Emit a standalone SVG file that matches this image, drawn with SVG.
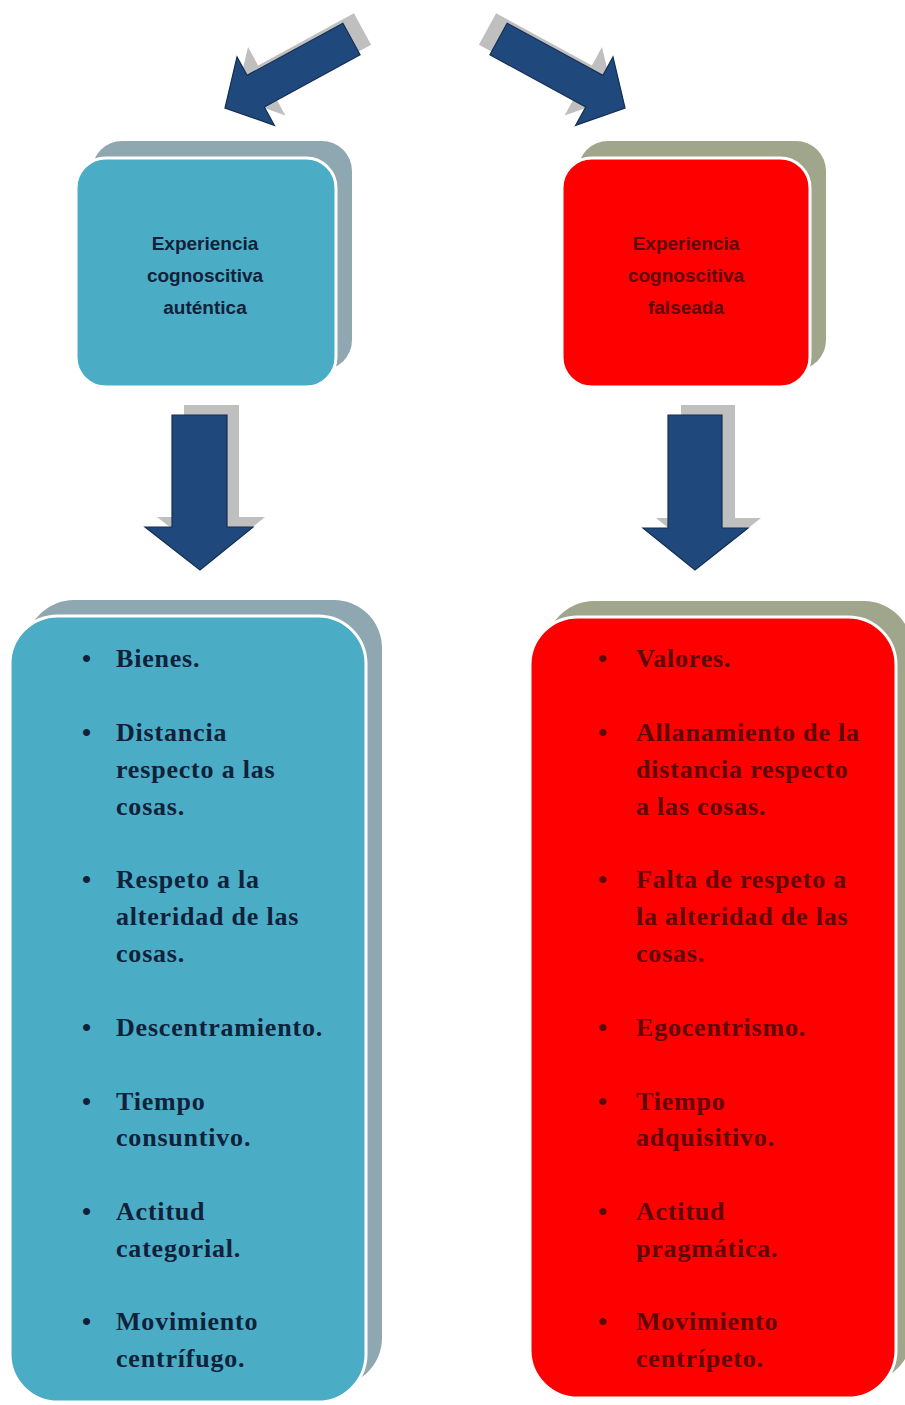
<svg xmlns="http://www.w3.org/2000/svg" width="905" height="1405" viewBox="0 0 905 1405">
<style>
.arrow{fill:#1F497D;stroke:#142f52;stroke-width:1.2;stroke-linejoin:miter}
.ashadow{fill:#BFBFBF}
.blue{fill:#4BACC6;stroke:#ffffff;stroke-width:3}
.red{fill:#FF0000;stroke:#ffffff;stroke-width:3}
.bshadow{fill:#8FA7B1}
.rshadow{fill:#9FA68C}
.ttl{font-family:"Liberation Sans",Arial,sans-serif;font-weight:bold;font-size:19px;text-anchor:middle}
.item{font-family:"Liberation Serif","Times New Roman",serif;font-weight:bold;font-size:26px;letter-spacing:0.8px}
.navy{fill:#10213a}
.dred{fill:#5e0707}
</style>
<rect width="905" height="1405" fill="#ffffff"/>

<g id="connectors">
  <g id="arrow-top-left">
    <polygon class="ashadow" transform="translate(11,-10)" points="225,108 237,57 247.1,75.4 342.9,23.2 360.1,54.8 264.3,107 274.4,125.4"/>
    <polygon class="arrow" points="225,108 237,57 247.1,75.4 342.9,23.2 360.1,54.8 264.3,107 274.4,125.4"/>
  </g>
  <g id="arrow-top-right">
    <polygon class="ashadow" transform="translate(-11,-10)" points="625,108 613,57 602.9,75.4 507.1,23.2 489.9,54.8 585.7,107 575.6,125.4"/>
    <polygon class="arrow" points="625,108 613,57 602.9,75.4 507.1,23.2 489.9,54.8 585.7,107 575.6,125.4"/>
  </g>
  <g id="arrow-down-left">
    <polygon class="ashadow" transform="translate(12,-10)" points="172,415 227,415 227,527 253,527 200,570 145,527 172,527"/>
    <polygon class="arrow" points="172,415 227,415 227,527 253,527 200,570 145,527 172,527"/>
  </g>
  <g id="arrow-down-right">
    <polygon class="ashadow" transform="translate(13,-10)" points="668,415 722,415 722,528 748,528 695,570 643,528 668,528"/>
    <polygon class="arrow" points="668,415 722,415 722,528 748,528 695,570 643,528 668,528"/>
  </g>
</g>

<g id="node-autentica">
  <rect class="bshadow" x="92" y="141" width="260" height="229" rx="30"/>
  <rect class="blue" x="76" y="158" width="260" height="229" rx="30"/>
  <text class="ttl navy" x="205" y="250">Experiencia</text>
  <text class="ttl navy" x="205" y="282">cognoscitiva</text>
  <text class="ttl navy" x="205" y="314">auténtica</text>
</g>

<g id="node-falseada">
  <rect class="rshadow" x="578" y="141" width="248" height="229" rx="30"/>
  <rect class="red" x="562" y="158" width="248" height="229" rx="30"/>
  <text class="ttl dred" x="686" y="250">Experiencia</text>
  <text class="ttl dred" x="686" y="282">cognoscitiva</text>
  <text class="ttl dred" x="686" y="314">falseada</text>
</g>

<g id="node-lista-autentica">
  <rect class="bshadow" x="26" y="600" width="356" height="786" rx="48"/>
  <rect class="blue" x="10" y="616" width="356" height="786" rx="48"/>
  <g class="item navy">
    <text x="82" y="667">•</text><text x="116" y="667">Bienes.</text>
    <text x="82" y="741">•</text><text x="116" y="741">Distancia</text>
    <text x="116" y="778">respecto a las</text>
    <text x="116" y="815">cosas.</text>
    <text x="82" y="888">•</text><text x="116" y="888">Respeto a la</text>
    <text x="116" y="925">alteridad de las</text>
    <text x="116" y="962">cosas.</text>
    <text x="82" y="1036">•</text><text x="116" y="1036">Descentramiento.</text>
    <text x="82" y="1110">•</text><text x="116" y="1110">Tiempo</text>
    <text x="116" y="1146">consuntivo.</text>
    <text x="82" y="1220">•</text><text x="116" y="1220">Actitud</text>
    <text x="116" y="1257">categorial.</text>
    <text x="82" y="1330">•</text><text x="116" y="1330">Movimiento</text>
    <text x="116" y="1367">centrífugo.</text>
  </g>
</g>

<g id="node-lista-falseada">
  <rect class="rshadow" x="546" y="601" width="366" height="781" rx="48"/>
  <rect class="red" x="530" y="617" width="366" height="781" rx="48"/>
  <g class="item dred">
    <text x="598" y="667">•</text><text x="636" y="667">Valores.</text>
    <text x="598" y="741">•</text><text x="636" y="741">Allanamiento de la</text>
    <text x="636" y="778">distancia respecto</text>
    <text x="636" y="815">a las cosas.</text>
    <text x="598" y="888">•</text><text x="636" y="888">Falta de respeto a</text>
    <text x="636" y="925">la alteridad de las</text>
    <text x="636" y="962">cosas.</text>
    <text x="598" y="1036">•</text><text x="636" y="1036">Egocentrismo.</text>
    <text x="598" y="1110">•</text><text x="636" y="1110">Tiempo</text>
    <text x="636" y="1146">adquisitivo.</text>
    <text x="598" y="1220">•</text><text x="636" y="1220">Actitud</text>
    <text x="636" y="1257">pragmática.</text>
    <text x="598" y="1330">•</text><text x="636" y="1330">Movimiento</text>
    <text x="636" y="1367">centrípeto.</text>
  </g>
</g>
</svg>
